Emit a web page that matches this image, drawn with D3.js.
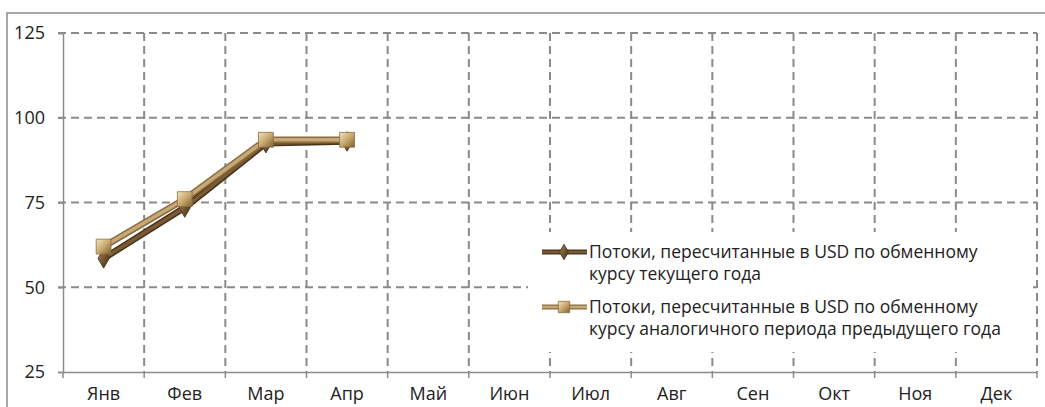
<!DOCTYPE html>
<html>
<head>
<meta charset="utf-8">
<script src="https://cdn.jsdelivr.net/npm/d3@7"></script>
<style>
  body { margin: 0; background: #fff; }
  text { font-family: "Open Sans", "Noto Sans", sans-serif; fill: #222; }
</style>
</head>
<body>
<div id="chart"></div>
<script>
// Months and the two series
const months = ['Янв', 'Фев', 'Мар', 'Апр', 'Май', 'Июн', 'Июл', 'Авг', 'Сен', 'Окт', 'Ноя', 'Дек'];
const currentRate = [58.5, 73.5, 92.5, 93.0];
const previousRate = [62, 76, 93.5, 93.5];
const yTicks = [25, 50, 75, 100, 125];
const legendLabels = [
    ['Потоки, пересчитанные в USD по обменному', 'курсу текущего года'],
    ['Потоки, пересчитанные в USD по обменному', 'курсу аналогичного периода предыдущего года']
];

const width = 1045, height = 407;
const margin = { top: 33, right: 8, bottom: 35, left: 63 };

const svg = d3.select('#chart').append('svg')
    .attr('width', width)
    .attr('height', height);

const defs = svg.append('defs');

// bevelled markers
const gLight = defs.append('linearGradient').attr('id', 'lightGrad')
    .attr('x1', 0).attr('y1', 0).attr('x2', 1).attr('y2', 1);
gLight.append('stop').attr('offset', '0%').attr('stop-color', '#f3e4c0');
gLight.append('stop').attr('offset', '50%').attr('stop-color', '#c9a96f');
gLight.append('stop').attr('offset', '100%').attr('stop-color', '#7d6033');

const gDark = defs.append('linearGradient').attr('id', 'darkGrad')
    .attr('x1', 0).attr('y1', 0).attr('x2', 1).attr('y2', 1);
gDark.append('stop').attr('offset', '0%').attr('stop-color', '#a88555');
gDark.append('stop').attr('offset', '100%').attr('stop-color', '#3f2c15');

// outer frame
svg.append('path')
    .attr('d', `M7,${height} V13 H${width}`)
    .attr('fill', 'none')
    .attr('stroke', '#8a8a8a')
    .attr('stroke-width', 1.5);

const x = d3.scaleBand()
    .domain(months)
    .range([margin.left, width - margin.right]);

const y = d3.scaleLinear()
    .domain([25, 125])
    .range([height - margin.bottom, margin.top]);

const plotBottom = y(25), plotTop = y(125);
const gridColor = '#8a8a8a';

// horizontal gridlines
svg.append('g').selectAll('line')
    .data(yTicks.filter(d => d !== 25))
    .join('line')
    .attr('x1', margin.left - 5)
    .attr('x2', width - margin.right)
    .attr('y1', d => y(d))
    .attr('y2', d => y(d))
    .attr('stroke', gridColor)
    .attr('stroke-width', 2)
    .attr('stroke-dasharray', '8,5');

// vertical gridlines at category boundaries
const boundaries = months.map(m => x(m) + x.bandwidth());
svg.append('g').selectAll('line')
    .data(boundaries)
    .join('line')
    .attr('x1', d => d)
    .attr('x2', d => d)
    .attr('y1', plotTop)
    .attr('y2', plotBottom)
    .attr('stroke', gridColor)
    .attr('stroke-width', 2)
    .attr('stroke-dasharray', '8,5');

// x axis
const xAxis = d3.axisBottom(x).tickSize(0).tickPadding(15);
const xg = svg.append('g')
    .attr('transform', `translate(0,${plotBottom})`)
    .call(xAxis);
xg.select('.domain').attr('stroke', '#8c8c8c').attr('stroke-width', 1.5);
xg.selectAll('text').attr('font-size', 18).attr('fill', '#222');
xg.append('g').selectAll('line')
    .data([margin.left].concat(boundaries))
    .join('line')
    .attr('x1', d => d).attr('x2', d => d)
    .attr('y1', 0).attr('y2', 6)
    .attr('stroke', '#8c8c8c').attr('stroke-width', 1.5);

// y axis
const yAxis = d3.axisLeft(y).tickValues(yTicks).tickSize(5).tickPadding(8);
const yg = svg.append('g')
    .attr('transform', `translate(${margin.left},0)`)
    .call(yAxis);
yg.select('.domain').attr('stroke', '#8c8c8c').attr('stroke-width', 1.5);
yg.selectAll('.tick line').attr('stroke', '#8c8c8c').attr('stroke-width', 1.5);
yg.selectAll('text').attr('font-size', 18).attr('fill', '#222').attr('x', -18).attr('text-anchor', 'end');

// lines
const line = d3.line()
    .x((d, i) => x(months[i]) + x.bandwidth() / 2)
    .y(d => y(d));

const diamond = d3.symbol().type(d3.symbolDiamond).size(110)();
const square = d3.symbol().type(d3.symbolSquare).size(220)();

function drawSeries(data, outline, fill, marker, grad) {
    const g = svg.append('g');
    g.append('path').datum(data)
        .attr('d', line).attr('fill', 'none')
        .attr('stroke', outline).attr('stroke-width', 6.5)
        .attr('stroke-linejoin', 'round');
    g.append('path').datum(data)
        .attr('d', line).attr('fill', 'none')
        .attr('stroke', fill).attr('stroke-width', 3.5)
        .attr('stroke-linejoin', 'round');
    g.selectAll('.m').data(data).join('path')
        .attr('class', 'm')
        .attr('transform', (d, i) => `translate(${x(months[i]) + x.bandwidth() / 2},${y(d)})`)
        .attr('d', marker)
        .attr('fill', grad)
        .attr('stroke', outline).attr('stroke-width', 0.8);
}

drawSeries(currentRate, '#4a3219', '#7a5a34', diamond, 'url(#darkGrad)');
drawSeries(previousRate, '#8b6c3f', '#c7a877', square, 'url(#lightGrad)');

// legend
const legend = svg.append('g');
legend.append('rect')
    .attr('x', 528).attr('y', 232)
    .attr('width', 502).attr('height', 120)
    .attr('fill', '#fff');

const legendItems = [
    { labels: legendLabels[0], outline: '#4a3219', fill: '#7a5a34', marker: d3.symbol().type(d3.symbolDiamond).size(70)(), grad: 'url(#darkGrad)', y: 252 },
    { labels: legendLabels[1], outline: '#8b6c3f', fill: '#c7a877', marker: d3.symbol().type(d3.symbolSquare).size(130)(), grad: 'url(#lightGrad)', y: 307 }
];

legendItems.forEach(item => {
    legend.append('line')
        .attr('x1', 542).attr('x2', 587)
        .attr('y1', item.y).attr('y2', item.y)
        .attr('stroke', item.outline).attr('stroke-width', 5);
    legend.append('line')
        .attr('x1', 542).attr('x2', 587)
        .attr('y1', item.y).attr('y2', item.y)
        .attr('stroke', item.fill).attr('stroke-width', 2.5);
    legend.append('path')
        .attr('transform', `translate(564,${item.y})`)
        .attr('d', item.marker)
        .attr('fill', item.grad)
        .attr('stroke', item.outline).attr('stroke-width', 0.8);
    item.labels.forEach((t, i) => {
        legend.append('text')
            .attr('x', 589)
            .attr('y', item.y + 6 + i * 22)
            .attr('font-size', 17.5)
            .text(t);
    });
});
</script>
</body>
</html>
